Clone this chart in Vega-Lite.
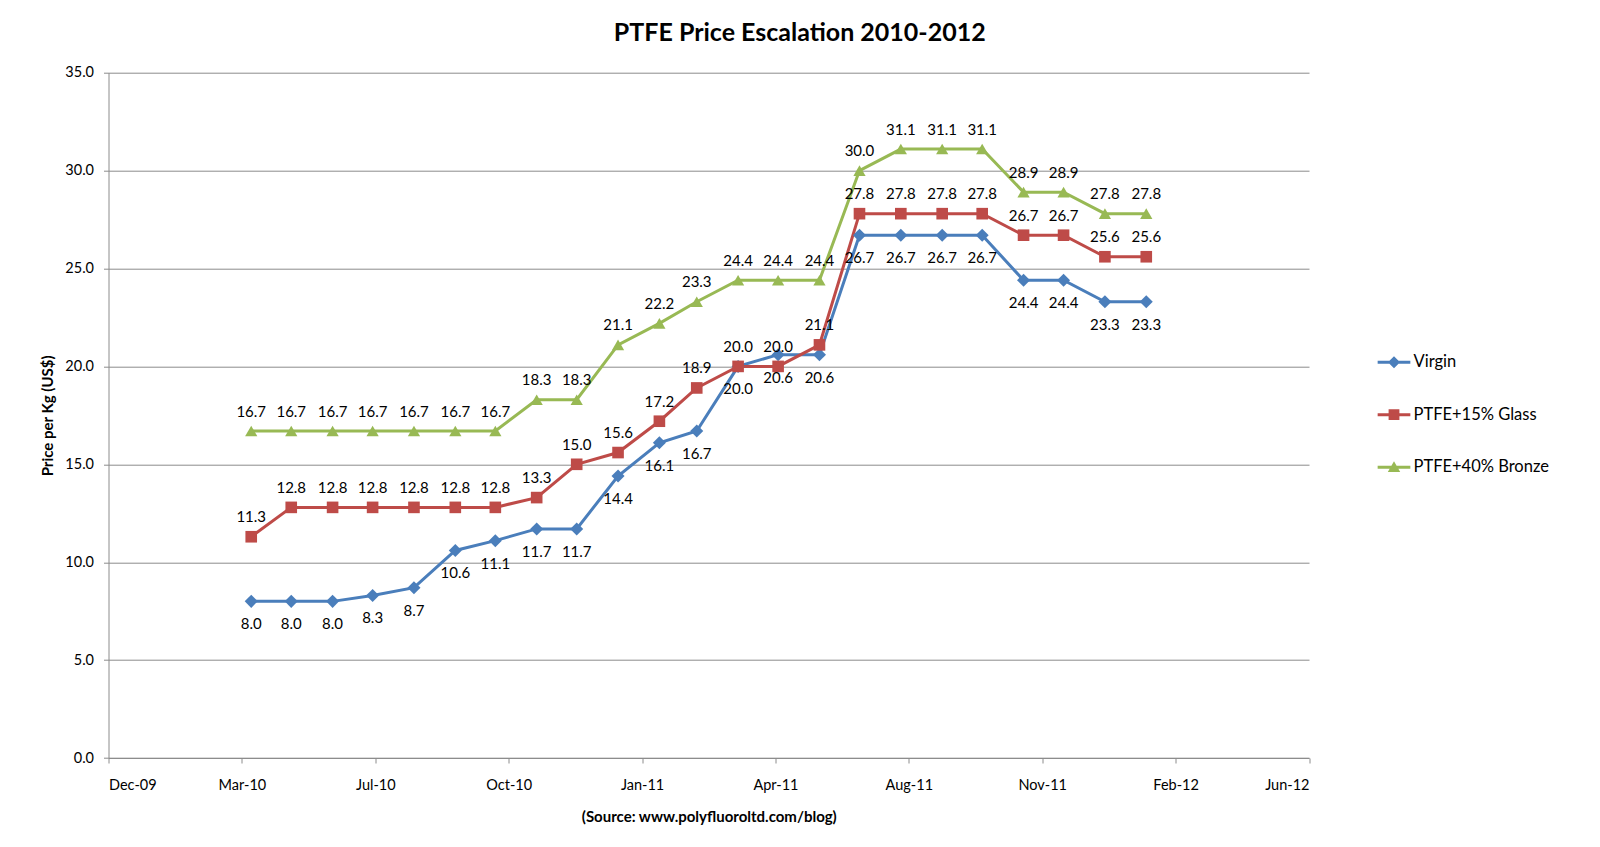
{
  "$schema": "https://vega.github.io/schema/vega-lite/v6.json",
  "description": "PTFE price escalation 2010-2012, three grades, monthly.",
  "autosize": "none",
  "width": 1200.5,
  "height": 685.3,
  "padding": {"left": 108.5, "top": 72.7, "right": 291, "bottom": 89},
  "background": "white",
  "title": {
    "text": "PTFE Price Escalation 2010-2012",
    "anchor": "middle",
    "dx": 91,
    "offset": 19,
    "font": "Lato",
    "fontSize": 25,
    "fontWeight": "bold",
    "color": "#000000"
  },
  "data": {
    "values": [
      {"date": "2010-04-01", "series": "Virgin", "price": 8.0},
      {"date": "2010-05-01", "series": "Virgin", "price": 8.0},
      {"date": "2010-06-01", "series": "Virgin", "price": 8.0},
      {"date": "2010-07-01", "series": "Virgin", "price": 8.3},
      {"date": "2010-08-01", "series": "Virgin", "price": 8.7},
      {"date": "2010-09-01", "series": "Virgin", "price": 10.6},
      {"date": "2010-10-01", "series": "Virgin", "price": 11.1},
      {"date": "2010-11-01", "series": "Virgin", "price": 11.7},
      {"date": "2010-12-01", "series": "Virgin", "price": 11.7},
      {"date": "2011-01-01", "series": "Virgin", "price": 14.4},
      {"date": "2011-02-01", "series": "Virgin", "price": 16.1},
      {"date": "2011-03-01", "series": "Virgin", "price": 16.7},
      {"date": "2011-04-01", "series": "Virgin", "price": 20.0},
      {"date": "2011-05-01", "series": "Virgin", "price": 20.6},
      {"date": "2011-06-01", "series": "Virgin", "price": 20.6},
      {"date": "2011-07-01", "series": "Virgin", "price": 26.7},
      {"date": "2011-08-01", "series": "Virgin", "price": 26.7},
      {"date": "2011-09-01", "series": "Virgin", "price": 26.7},
      {"date": "2011-10-01", "series": "Virgin", "price": 26.7},
      {"date": "2011-11-01", "series": "Virgin", "price": 24.4},
      {"date": "2011-12-01", "series": "Virgin", "price": 24.4},
      {"date": "2012-01-01", "series": "Virgin", "price": 23.3},
      {"date": "2012-02-01", "series": "Virgin", "price": 23.3},
      {"date": "2010-04-01", "series": "PTFE+15% Glass", "price": 11.3},
      {"date": "2010-05-01", "series": "PTFE+15% Glass", "price": 12.8},
      {"date": "2010-06-01", "series": "PTFE+15% Glass", "price": 12.8},
      {"date": "2010-07-01", "series": "PTFE+15% Glass", "price": 12.8},
      {"date": "2010-08-01", "series": "PTFE+15% Glass", "price": 12.8},
      {"date": "2010-09-01", "series": "PTFE+15% Glass", "price": 12.8},
      {"date": "2010-10-01", "series": "PTFE+15% Glass", "price": 12.8},
      {"date": "2010-11-01", "series": "PTFE+15% Glass", "price": 13.3},
      {"date": "2010-12-01", "series": "PTFE+15% Glass", "price": 15.0},
      {"date": "2011-01-01", "series": "PTFE+15% Glass", "price": 15.6},
      {"date": "2011-02-01", "series": "PTFE+15% Glass", "price": 17.2},
      {"date": "2011-03-01", "series": "PTFE+15% Glass", "price": 18.9},
      {"date": "2011-04-01", "series": "PTFE+15% Glass", "price": 20.0},
      {"date": "2011-05-01", "series": "PTFE+15% Glass", "price": 20.0},
      {"date": "2011-06-01", "series": "PTFE+15% Glass", "price": 21.1},
      {"date": "2011-07-01", "series": "PTFE+15% Glass", "price": 27.8},
      {"date": "2011-08-01", "series": "PTFE+15% Glass", "price": 27.8},
      {"date": "2011-09-01", "series": "PTFE+15% Glass", "price": 27.8},
      {"date": "2011-10-01", "series": "PTFE+15% Glass", "price": 27.8},
      {"date": "2011-11-01", "series": "PTFE+15% Glass", "price": 26.7},
      {"date": "2011-12-01", "series": "PTFE+15% Glass", "price": 26.7},
      {"date": "2012-01-01", "series": "PTFE+15% Glass", "price": 25.6},
      {"date": "2012-02-01", "series": "PTFE+15% Glass", "price": 25.6},
      {"date": "2010-04-01", "series": "PTFE+40% Bronze", "price": 16.7},
      {"date": "2010-05-01", "series": "PTFE+40% Bronze", "price": 16.7},
      {"date": "2010-06-01", "series": "PTFE+40% Bronze", "price": 16.7},
      {"date": "2010-07-01", "series": "PTFE+40% Bronze", "price": 16.7},
      {"date": "2010-08-01", "series": "PTFE+40% Bronze", "price": 16.7},
      {"date": "2010-09-01", "series": "PTFE+40% Bronze", "price": 16.7},
      {"date": "2010-10-01", "series": "PTFE+40% Bronze", "price": 16.7},
      {"date": "2010-11-01", "series": "PTFE+40% Bronze", "price": 18.3},
      {"date": "2010-12-01", "series": "PTFE+40% Bronze", "price": 18.3},
      {"date": "2011-01-01", "series": "PTFE+40% Bronze", "price": 21.1},
      {"date": "2011-02-01", "series": "PTFE+40% Bronze", "price": 22.2},
      {"date": "2011-03-01", "series": "PTFE+40% Bronze", "price": 23.3},
      {"date": "2011-04-01", "series": "PTFE+40% Bronze", "price": 24.4},
      {"date": "2011-05-01", "series": "PTFE+40% Bronze", "price": 24.4},
      {"date": "2011-06-01", "series": "PTFE+40% Bronze", "price": 24.4},
      {"date": "2011-07-01", "series": "PTFE+40% Bronze", "price": 30.0},
      {"date": "2011-08-01", "series": "PTFE+40% Bronze", "price": 31.1},
      {"date": "2011-09-01", "series": "PTFE+40% Bronze", "price": 31.1},
      {"date": "2011-10-01", "series": "PTFE+40% Bronze", "price": 31.1},
      {"date": "2011-11-01", "series": "PTFE+40% Bronze", "price": 28.9},
      {"date": "2011-12-01", "series": "PTFE+40% Bronze", "price": 28.9},
      {"date": "2012-01-01", "series": "PTFE+40% Bronze", "price": 27.8},
      {"date": "2012-02-01", "series": "PTFE+40% Bronze", "price": 27.8}
    ]
  },
  "encoding": {
    "x": {
      "field": "date",
      "type": "temporal",
      "scale": {
        "type": "utc",
        "domain": [
          {"year": 2009, "month": 12, "date": 15, "utc": true},
          {"year": 2012, "month": 6, "date": 2, "utc": true}
        ],
        "nice": false
      },
      "axis": {
        "title": "(Source: www.polyfluoroltd.com/blog)",
        "values": [
          {"year": 2009, "month": 12, "date": 15, "utc": true},
          {"year": 2010, "month": 3, "date": 25, "utc": true},
          {"year": 2010, "month": 7, "date": 3, "utc": true},
          {"year": 2010, "month": 10, "date": 11, "utc": true},
          {"year": 2011, "month": 1, "date": 19, "utc": true},
          {"year": 2011, "month": 4, "date": 29, "utc": true},
          {"year": 2011, "month": 8, "date": 7, "utc": true},
          {"year": 2011, "month": 11, "date": 15, "utc": true},
          {"year": 2012, "month": 2, "date": 23, "utc": true},
          {"year": 2012, "month": 6, "date": 2, "utc": true}
        ],
        "labelExpr": "utcFormat(datum.value, '%b-%y')",
        "grid": false,
        "labelPadding": 15,
        "titlePadding": 18
      }
    },
    "y": {
      "field": "price",
      "type": "quantitative",
      "scale": {"domain": [0, 35], "nice": false},
      "axis": {
        "title": "Price per Kg (US$)",
        "values": [0, 5, 10, 15, 20, 25, 30, 35],
        "format": ".1f",
        "grid": true,
        "labelPadding": 10,
        "titlePadding": 9
      }
    },
    "color": {
      "field": "series",
      "type": "nominal",
      "scale": {
        "domain": ["Virgin", "PTFE+15% Glass", "PTFE+40% Bronze"],
        "range": ["#4A7EBB", "#BE4B48", "#98B954"]
      },
      "legend": {
        "title": null,
        "orient": "none",
        "legendX": 1269,
        "legendY": 273,
        "symbolSize": 1069,
        "symbolStrokeWidth": 0,
        "symbolOpacity": 1,
        "labelOffset": 3,
        "rowPadding": 27.5,
        "labelFont": "Lato",
        "labelFontSize": 16.5,
        "labelColor": "#000000"
      }
    }
  },
  "layer": [
    {
      "mark": {"type": "line", "strokeWidth": 3}
    },
    {
      "transform": [{"filter": "datum.series == 'Virgin'"}],
      "mark": {"type": "point", "shape": "diamond", "filled": true, "size": 170, "opacity": 1}
    },
    {
      "transform": [{"filter": "datum.series == 'PTFE+15% Glass'"}],
      "mark": {"type": "point", "shape": "square", "filled": true, "size": 135, "opacity": 1}
    },
    {
      "transform": [{"filter": "datum.series == 'PTFE+40% Bronze'"}],
      "mark": {"type": "point", "shape": "triangle-up", "filled": true, "size": 150, "opacity": 1}
    },
    {
      "transform": [{"filter": "false"}],
      "mark": {"type": "point", "filled": true, "opacity": 1},
      "encoding": {
        "shape": {
          "field": "series",
          "type": "nominal",
          "scale": {
            "domain": ["Virgin", "PTFE+15% Glass", "PTFE+40% Bronze"],
            "range": [
              "M-1,-0.09H1V0.09H-1Z M0,-0.37L0.37,0L0,0.37L-0.37,0Z",
              "M-1,-0.09H1V0.09H-1Z M-0.33,-0.33H0.33V0.33H-0.33Z",
              "M-1,-0.09H1V0.09H-1Z M0,-0.36L0.38,0.3H-0.38Z"
            ]
          }
        }
      }
    },
    {
      "transform": [{"filter": "datum.series == 'Virgin'"}],
      "mark": {"type": "text", "dy": 23, "baseline": "middle", "font": "Lato", "fontSize": 15, "color": "#000000"},
      "encoding": {
        "text": {"field": "price", "type": "quantitative", "format": ".1f"},
        "color": {"value": "#000000"}
      }
    },
    {
      "transform": [{"filter": "datum.series != 'Virgin'"}],
      "mark": {"type": "text", "dy": -19.5, "baseline": "middle", "font": "Lato", "fontSize": 15, "color": "#000000"},
      "encoding": {
        "text": {"field": "price", "type": "quantitative", "format": ".1f"},
        "color": {"value": "#000000"}
      }
    }
  ],
  "config": {
    "view": {"stroke": null},
    "font": "Lato",
    "axis": {
      "domainColor": "#8c8c8c",
      "tickColor": "#8c8c8c",
      "gridColor": "#8c8c8c",
      "domainWidth": 1,
      "gridWidth": 1,
      "tickSize": 5,
      "labelFont": "Lato",
      "labelFontSize": 14.5,
      "labelColor": "#000000",
      "titleFont": "Lato",
      "titleFontSize": 15,
      "titleFontWeight": "bold",
      "titleColor": "#000000"
    }
  }
}
